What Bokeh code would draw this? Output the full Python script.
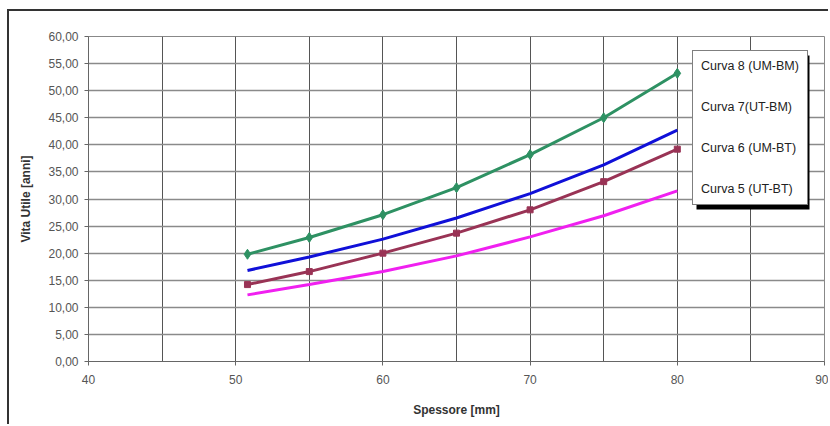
from bokeh.plotting import figure
from bokeh.models import FixedTicker, CustomJSTickFormatter, Legend, LegendItem, BoxAnnotation, Range1d
from bokeh.embed import file_html
from bokeh.resources import INLINE

spessore = [50.8, 55, 60, 65, 70, 75, 80]
curva8 = [19.8, 22.9, 27.1, 32.1, 38.2, 45.0, 53.2]
curva7 = [16.8, 19.3, 22.6, 26.5, 31.0, 36.3, 42.7]
curva6 = [14.2, 16.6, 20.0, 23.7, 28.0, 33.2, 39.2]
curva5 = [12.3, 14.2, 16.6, 19.5, 23.0, 26.9, 31.5]
x_ticks = [40, 50, 60, 70, 80, 90]
x_minor = [45, 55, 65, 75, 85]
y_ticks = list(range(0, 61, 5))
labels = ["Curva 8 (UM-BM)", "Curva 7(UT-BM)", "Curva 6 (UM-BT)", "Curva 5 (UT-BT)"]

FONT = "Liberation Sans"

p = figure(width=821, height=415, output_backend="svg", toolbar_location=None,
           x_range=Range1d(40, 90), y_range=Range1d(0, 60),
           min_border_left=79, min_border_right=6, min_border_top=25, min_border_bottom=65)
p.styles = {"margin-left": "7px", "margin-top": "9px",
            "border-left": "2px solid #333333", "border-top": "2px solid #333333"}
p.background_fill_color = "white"
p.border_fill_color = "white"
p.outline_line_color = "#888888"

p.xaxis.ticker = FixedTicker(ticks=x_ticks, minor_ticks=x_minor)
p.yaxis.ticker = FixedTicker(ticks=y_ticks)
p.yaxis.formatter = CustomJSTickFormatter(code="return tick.toFixed(2).replace('.', ',');")

for ax in (p.xaxis[0], p.yaxis[0]):
    ax.major_label_text_font = FONT
    ax.major_label_text_font_size = "12px"
    ax.major_label_text_color = "#555555"
    ax.axis_label_text_font = FONT
    ax.axis_label_text_font_size = "12px"
    ax.axis_label_text_font_style = "bold"
    ax.axis_label_text_color = "#333333"
    ax.axis_line_color = "#666666"
    ax.major_tick_line_color = "#666666"
    ax.major_tick_out = 4
    ax.major_tick_in = 0
    ax.minor_tick_out = 0
    ax.minor_tick_in = 0

p.xaxis.axis_label = "Spessore [mm]"
p.yaxis.axis_label = "Vita Utile [anni]"
p.xaxis.major_label_standoff = 9
p.xaxis.axis_label_standoff = 16
p.yaxis.major_label_standoff = 6
p.yaxis.axis_label_standoff = 12

p.xgrid.grid_line_color = "#555555"
p.xgrid.grid_line_width = 1
p.xgrid.minor_grid_line_color = "#555555"
p.xgrid.minor_grid_line_width = 1
p.ygrid.grid_line_color = "#8a8a8a"
p.ygrid.grid_line_width = 1.6

r8 = p.line(spessore, curva8, line_color="#2e9163", line_width=3)
p.scatter(spessore, curva8, marker="diamond", size=10, color="#2e9163")
r7 = p.line(spessore, curva7, line_color="#1010d8", line_width=3)
r6 = p.line(spessore, curva6, line_color="#993355", line_width=3)
p.scatter(spessore, curva6, marker="square", size=6, color="#993355")
r5 = p.line(spessore, curva5, line_color="#f020f0", line_width=3)

# legend drop shadow (frame-relative screen pixels, y measured upward from frame bottom)
shadow = BoxAnnotation(left=608, right=721, top=306, bottom=152,
                       left_units="screen", right_units="screen", top_units="screen", bottom_units="screen",
                       fill_color="black", fill_alpha=1, line_color=None)
p.add_layout(shadow)

legend = Legend(items=[LegendItem(label=l, renderers=[r]) for l, r in zip(labels, [r8, r7, r6, r5])],
                location=(604, 156), glyph_width=0, glyph_height=14, label_height=14,
                label_standoff=0, spacing=27, padding=8, margin=0,
                label_text_font=FONT, label_text_font_size="12.5px", label_text_color="#222222",
                border_line_color="black", border_line_width=1,
                background_fill_color="white", background_fill_alpha=1)
p.add_layout(legend, "center")

open("out.html", "w").write(file_html(p, INLINE))
